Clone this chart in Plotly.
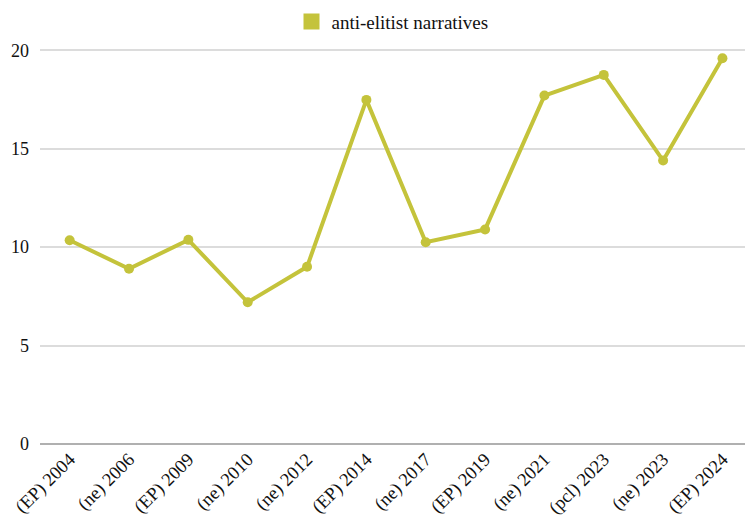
import plotly.graph_objects as go

# Election labels and share of anti-elitist narratives
elections = ["(EP) 2004", "(ne) 2006", "(EP) 2009", "(ne) 2010", "(ne) 2012",
             "(EP) 2014", "(ne) 2017", "(EP) 2019", "(ne) 2021", "(pcl) 2023",
             "(ne) 2023", "(EP) 2024"]
anti_elitist = [10.35, 8.9, 10.37, 7.2, 9.0, 17.48, 10.25, 10.9, 17.7, 18.75, 14.4, 19.6]
y_ticks = [0, 5, 10, 15, 20]

COLOR = "#c4c33b"
FONT = "Liberation Serif"

fig = go.Figure()
fig.add_trace(go.Scatter(
    x=elections, y=anti_elitist, mode="lines+markers",
    line=dict(color=COLOR, width=4),
    marker=dict(color=COLOR, size=10),
    showlegend=False,
))
# Square swatch for the legend entry
fig.add_trace(go.Scatter(
    x=[None], y=[None], mode="markers", name="anti-elitist narratives",
    marker=dict(color=COLOR, symbol="square", size=18),
))

fig.update_layout(
    width=745, height=523,
    margin=dict(l=40, r=0, t=43, b=79),
    paper_bgcolor="white", plot_bgcolor="white",
    font=dict(family=FONT, size=18, color="#111111"),
    legend=dict(orientation="h", x=0.5, xanchor="center", y=0.995, yanchor="top",
                yref="container", font=dict(size=19, family=FONT)),
    xaxis=dict(type="category", range=[-0.5, 11.38], tickangle=-45,
               showgrid=False, showline=False, ticks="",
               tickfont=dict(size=18.5, family=FONT)),
    yaxis=dict(range=[0, 20.3], tickvals=y_ticks, showgrid=True,
               gridcolor="#dcdcdc", gridwidth=1.5, zeroline=True,
               zerolinecolor="#b0b0b0", zerolinewidth=1.5, ticks="",
               ticklabelstandoff=10,
               tickfont=dict(size=18, family=FONT)),
)

fig.write_html("out.html")
